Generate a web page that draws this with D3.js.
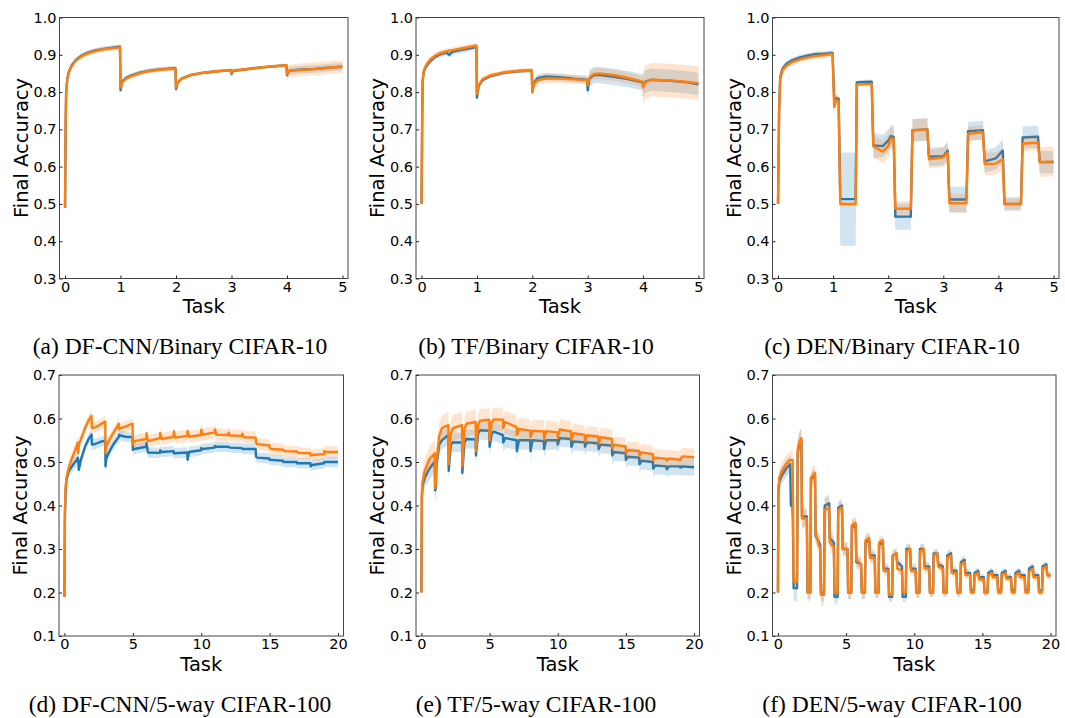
<!DOCTYPE html>
<html><head><meta charset="utf-8">
<script src="https://cdn.jsdelivr.net/npm/d3@7"></script>
<style>body{margin:0;background:#fff}</style>
</head><body>
<svg id="chart" width="1065" height="718"></svg>
<script>
// ---------- tick labels & captions ----------
const xTicksTop = [0, 1, 2, 3, 4, 5];
const xTicksBottom = [0, 5, 10, 15, 20];
const yTicksTop = [0.3, 0.4, 0.5, 0.6, 0.7, 0.8, 0.9, 1.0];
const yTicksBottom = [0.1, 0.2, 0.3, 0.4, 0.5, 0.6, 0.7];
const captions = ["(a) DF-CNN/Binary CIFAR-10", "(b) TF/Binary CIFAR-10", "(c) DEN/Binary CIFAR-10",
  "(d) DF-CNN/5-way CIFAR-100", "(e) TF/5-way CIFAR-100", "(f) DEN/5-way CIFAR-100"];

// ---------- (a) DF-CNN / Binary CIFAR-10 ----------
const xA = [0,0.01,0.02,0.04,0.07,0.12,0.2,0.3,0.4,0.55,0.7,0.85,0.99,1.0,1.03,1.1,1.2,1.35,1.5,1.7,1.99,2.0,2.03,2.1,2.25,2.5,2.75,2.99,3.0,3.03,3.3,3.6,3.99,4.0,4.04,4.2,4.5,4.8,5.0];
const blueA = [0.49,0.70,0.80,0.835,0.855,0.872,0.887,0.898,0.905,0.912,0.916,0.919,0.922,0.805,0.828,0.838,0.845,0.852,0.857,0.861,0.864,0.808,0.825,0.836,0.845,0.852,0.856,0.859,0.848,0.857,0.862,0.867,0.872,0.845,0.857,0.860,0.862,0.866,0.868];
const orangeA = [0.49,0.70,0.80,0.835,0.853,0.870,0.885,0.896,0.903,0.910,0.915,0.918,0.920,0.812,0.826,0.836,0.843,0.851,0.856,0.860,0.863,0.812,0.825,0.836,0.845,0.852,0.856,0.859,0.850,0.858,0.862,0.867,0.872,0.848,0.857,0.859,0.862,0.866,0.868];
const blueSdA = [0.006,0.006,0.004,0.004,0.010];
const orangeSdA = [0.007,0.006,0.004,0.004,0.017];

// ---------- (b) TF / Binary CIFAR-10 ----------
const xB = [0,0.01,0.02,0.04,0.08,0.15,0.25,0.35,0.45,0.5,0.55,0.65,0.8,0.99,1.0,1.03,1.1,1.25,1.5,1.75,1.99,2.0,2.03,2.1,2.25,2.5,2.75,2.99,3.0,3.03,3.1,3.2,3.5,3.75,3.99,4.0,4.04,4.15,4.5,4.8,5.0];
const blueB = [0.50,0.70,0.83,0.855,0.868,0.882,0.895,0.902,0.906,0.900,0.907,0.911,0.915,0.921,0.785,0.815,0.832,0.843,0.852,0.856,0.858,0.80,0.825,0.838,0.842,0.840,0.836,0.833,0.805,0.835,0.845,0.846,0.840,0.834,0.826,0.815,0.828,0.833,0.830,0.826,0.821];
const orangeB = [0.50,0.70,0.83,0.857,0.872,0.886,0.898,0.905,0.909,0.911,0.912,0.915,0.919,0.925,0.795,0.818,0.835,0.845,0.853,0.857,0.858,0.80,0.822,0.832,0.836,0.836,0.834,0.832,0.818,0.838,0.848,0.850,0.845,0.837,0.828,0.812,0.826,0.833,0.831,0.827,0.824];
const blueSdB = [0.008,0.005,0.010,0.022,0.030];
const orangeSdB = [0.008,0.006,0.012,0.015,0.045];

// ---------- (c) DEN / Binary CIFAR-10 ----------
const xC = [0,0.02,0.04,0.08,0.15,0.25,0.4,0.55,0.7,0.85,0.99,1.02,1.05,1.1,1.13,1.41,1.43,1.70,1.73,1.9,2.0,2.05,2.1,2.13,2.41,2.44,2.71,2.74,3.0,3.08,3.11,3.42,3.45,3.72,3.75,3.95,4.08,4.11,4.41,4.44,4.72,4.75,5.0];
const blueC = [0.50,0.75,0.84,0.862,0.875,0.885,0.893,0.898,0.902,0.903,0.905,0.78,0.783,0.782,0.513,0.513,0.826,0.828,0.657,0.655,0.67,0.682,0.68,0.466,0.466,0.698,0.70,0.627,0.628,0.643,0.512,0.512,0.695,0.698,0.614,0.622,0.643,0.50,0.50,0.678,0.68,0.612,0.612];
const orangeC = [0.50,0.75,0.835,0.858,0.87,0.88,0.888,0.893,0.897,0.899,0.902,0.76,0.778,0.776,0.50,0.50,0.82,0.822,0.655,0.64,0.655,0.675,0.675,0.487,0.487,0.697,0.70,0.62,0.625,0.637,0.502,0.502,0.688,0.692,0.607,0.608,0.62,0.50,0.50,0.662,0.664,0.612,0.614];
const blueSdC = [0.01,0.02,0.015,0.01,0.008,0.007,0.007,0.007,0.007,0.007,0.007,0.02,0.01,0.01,0.125,0.125,0.006,0.006,0.035,0.03,0.03,0.03,0.03,0.035,0.035,0.03,0.03,0.025,0.025,0.025,0.035,0.035,0.025,0.025,0.03,0.03,0.03,0.018,0.018,0.03,0.03,0.03,0.03];
const orangeSdC = [0.01,0.02,0.015,0.012,0.01,0.008,0.008,0.008,0.008,0.008,0.008,0.025,0.012,0.012,0.006,0.006,0.006,0.006,0.03,0.03,0.03,0.03,0.03,0.02,0.02,0.03,0.03,0.025,0.025,0.025,0.025,0.025,0.02,0.02,0.03,0.03,0.03,0.015,0.015,0.02,0.02,0.04,0.04];

// ---------- (d) DF-CNN / 5-way CIFAR-100 ----------
const xD = [0,0.03,0.08,0.15,0.3,0.5,0.7,0.9,0.98,1.0,1.05,1.2,1.5,1.8,1.98,2.0,2.3,2.6,2.98,3.0,3.05,3.3,3.6,3.98,4.0,4.05,4.5,4.98,5.0,5.1,5.98,
  6,6.1,6.98,7,7.1,7.98,8,8.1,8.98,9,9.1,9.98,10,10.1,10.98,11,11.1,11.98,12,12.1,12.98,13,13.1,13.98,14,14.1,14.98,15,15.1,15.98,16,16.1,16.98,17,17.1,17.98,18,18.1,18.98,19,19.1,20];
const orangeD = [0.19,0.38,0.44,0.465,0.485,0.505,0.52,0.537,0.545,0.52,0.54,0.552,0.578,0.598,0.606,0.578,0.58,0.586,0.593,0.52,0.535,0.552,0.568,0.588,0.575,0.577,0.582,0.588,0.54,0.548,0.553,
  0.566,0.548,0.555,0.567,0.553,0.558,0.57,0.556,0.56,0.571,0.558,0.562,0.574,0.563,0.568,0.575,0.563,0.562,0.568,0.561,0.56,0.565,0.557,0.556,0.545,0.541,0.538,0.533,0.53,0.528,0.528,0.525,0.524,0.524,0.521,0.52,0.515,0.516,0.518,0.525,0.523,0.523];
const blueD = [0.19,0.37,0.43,0.46,0.478,0.488,0.497,0.505,0.51,0.505,0.482,0.505,0.535,0.555,0.563,0.54,0.542,0.546,0.549,0.49,0.508,0.525,0.542,0.558,0.563,0.561,0.558,0.557,0.528,0.53,0.535,
  0.543,0.522,0.521,0.527,0.523,0.525,0.52,0.52,0.522,0.505,0.523,0.527,0.532,0.53,0.533,0.537,0.535,0.535,0.535,0.533,0.532,0.53,0.53,0.53,0.512,0.51,0.508,0.505,0.505,0.503,0.5,0.5,0.5,0.497,0.497,0.497,0.49,0.493,0.497,0.5,0.5,0.5];
const blueSdD = [0.015,0.012,0.012,0.012,0.012,0.012,0.012,0.012,0.012,0.012,0.012,0.012,0.012,0.012,0.012,0.012,0.012,0.012,0.012,0.012];
const orangeSdD = [0.015,0.013,0.013,0.013,0.013,0.014,0.014,0.014,0.014,0.014,0.014,0.014,0.014,0.014,0.014,0.014,0.013,0.013,0.013,0.013];

// ---------- (e) TF / 5-way CIFAR-100 ----------
const xE = [0,0.03,0.08,0.25,0.6,0.95,0.98,1.0,1.05,1.1,1.3,1.5,1.98,2,2.15,2.3,2.98,3,3.15,3.3,3.98,4,4.15,4.3,4.98,5,5.15,5.3,5.98,
  6,6.15,6.98,7,7.15,7.98,8,8.15,8.98,9,9.15,9.98,10,10.15,10.98,11,11.15,11.98,12,12.15,12.98,13,13.15,13.98,14,14.15,14.98,15,15.15,15.98,16,16.15,16.98,17,17.15,17.98,18,18.15,18.98,19,19.15,20];
const orangeE = [0.2,0.43,0.455,0.48,0.508,0.518,0.52,0.44,0.45,0.50,0.56,0.578,0.585,0.495,0.565,0.578,0.585,0.49,0.575,0.588,0.592,0.525,0.585,0.595,0.597,0.55,0.59,0.598,0.597,
  0.578,0.592,0.58,0.562,0.576,0.572,0.557,0.572,0.57,0.552,0.571,0.568,0.556,0.575,0.57,0.552,0.566,0.562,0.547,0.561,0.558,0.543,0.557,0.553,0.532,0.54,0.535,0.52,0.527,0.525,0.515,0.522,0.518,0.505,0.51,0.507,0.503,0.508,0.505,0.507,0.513,0.511];
const blueE = [0.2,0.42,0.445,0.465,0.485,0.50,0.502,0.435,0.44,0.49,0.54,0.55,0.562,0.48,0.54,0.545,0.545,0.475,0.545,0.553,0.552,0.515,0.565,0.573,0.572,0.535,0.565,0.57,0.562,
  0.545,0.555,0.55,0.525,0.55,0.55,0.525,0.55,0.548,0.53,0.55,0.55,0.54,0.555,0.553,0.535,0.547,0.545,0.535,0.545,0.543,0.53,0.54,0.538,0.515,0.523,0.52,0.505,0.512,0.51,0.495,0.503,0.50,0.485,0.492,0.49,0.483,0.49,0.49,0.487,0.49,0.488];
const blueSdE = [0.025,0.022,0.022,0.022,0.022,0.022,0.022,0.022,0.022,0.022,0.02,0.02,0.02,0.02,0.02,0.02,0.02,0.02,0.02,0.02];
const orangeSdE = [0.03,0.03,0.03,0.028,0.027,0.026,0.026,0.026,0.026,0.025,0.024,0.022,0.022,0.022,0.02,0.02,0.02,0.02,0.02,0.02];

// ---------- (f) DEN / 5-way CIFAR-100 ----------
const xF = [0,0.03,0.1,0.3,0.6,0.9,0.95,1.08,
  1.15,1.4,1.45,1.55,1.72,1.76,
  2.12,2.17,2.38,2.42,2.72,2.76,
  3.10,3.15,3.38,3.43,3.76,3.80,
  4.10,4.15,4.38,4.42,4.70,4.75,
  5.10,5.15,5.38,5.42,5.70,5.75,
  6.10,6.15,6.38,6.42,6.70,6.75,
  7.10,7.15,7.38,7.42,7.70,7.75,
  8.10,8.15,8.38,8.42,8.70,8.75,
  9.10,9.15,9.38,9.42,9.70,9.75,
  10.10,10.15,10.38,10.42,10.70,10.75,
  11.10,11.15,11.38,11.42,11.70,11.75,
  12.10,12.15,12.38,12.42,12.70,12.75,
  13.10,13.15,13.38,13.42,13.70,13.75,
  14.10,14.15,14.38,14.42,14.70,14.75,
  15.10,15.15,15.38,15.42,15.70,15.75,
  16.10,16.15,16.38,16.42,16.70,16.75,
  17.10,17.15,17.38,17.42,17.70,17.75,
  18.10,18.15,18.38,18.42,18.70,18.75,
  19.10,19.15,19.38,19.42,19.70,19.75,
  20.0];
const orangeF = [0.2,0.44,0.465,0.48,0.495,0.505,0.505,0.505,
  0.225,0.225,0.53,0.545,0.555,0.37,
  0.37,0.2,0.2,0.465,0.475,0.335,
  0.30,0.195,0.195,0.39,0.395,0.315,
  0.305,0.2,0.2,0.39,0.395,0.30,
  0.30,0.2,0.2,0.355,0.36,0.275,
  0.265,0.2,0.2,0.32,0.325,0.28,
  0.28,0.2,0.2,0.315,0.32,0.25,
  0.25,0.195,0.195,0.285,0.29,0.255,
  0.25,0.2,0.2,0.295,0.30,0.25,
  0.25,0.2,0.2,0.295,0.30,0.255,
  0.255,0.2,0.2,0.285,0.29,0.26,
  0.255,0.2,0.2,0.28,0.285,0.245,
  0.245,0.2,0.2,0.265,0.27,0.24,
  0.24,0.2,0.2,0.24,0.245,0.23,
  0.23,0.2,0.2,0.24,0.245,0.235,
  0.235,0.2,0.2,0.24,0.245,0.232,
  0.232,0.2,0.2,0.24,0.245,0.235,
  0.235,0.2,0.2,0.248,0.255,0.235,
  0.235,0.2,0.2,0.255,0.26,0.24,
  0.238];
const blueF = [0.2,0.43,0.455,0.47,0.485,0.495,0.40,0.40,
  0.21,0.21,0.52,0.54,0.548,0.375,
  0.375,0.2,0.2,0.46,0.47,0.33,
  0.31,0.2,0.2,0.40,0.405,0.325,
  0.315,0.19,0.19,0.395,0.40,0.30,
  0.30,0.2,0.2,0.35,0.355,0.27,
  0.265,0.2,0.2,0.315,0.32,0.285,
  0.285,0.2,0.2,0.31,0.315,0.255,
  0.255,0.19,0.19,0.285,0.29,0.27,
  0.26,0.19,0.19,0.30,0.30,0.255,
  0.255,0.2,0.2,0.30,0.30,0.26,
  0.26,0.2,0.2,0.29,0.29,0.265,
  0.26,0.2,0.2,0.285,0.29,0.25,
  0.25,0.2,0.2,0.27,0.275,0.245,
  0.245,0.205,0.205,0.245,0.25,0.235,
  0.235,0.2,0.2,0.245,0.25,0.24,
  0.24,0.205,0.205,0.245,0.25,0.235,
  0.235,0.205,0.205,0.245,0.25,0.24,
  0.24,0.205,0.205,0.255,0.26,0.24,
  0.24,0.205,0.205,0.26,0.265,0.24,
  0.24];
const blueSdF = [0.02,0.03,0.015,0.02,0.015,0.015,0.015,0.012,0.012,0.012,0.012,0.01,0.01,0.01,0.008,0.008,0.008,0.008,0.008,0.008];
const orangeSdF = [0.02,0.02,0.02,0.025,0.015,0.015,0.015,0.012,0.012,0.012,0.012,0.01,0.01,0.01,0.008,0.008,0.008,0.008,0.008,0.008];

// ---------- layout ----------
const layout = [
  {L:59.5, R:348,  T:17.5, B:278.5, capX:180, capY:354},
  {L:416,  R:704,  T:17.5, B:278.5, capX:536, capY:354},
  {L:772.5,R:1059, T:17.5, B:278.5, capX:892, capY:354},
  {L:59,   R:343.5,T:375,  B:636,   capX:180, capY:712},
  {L:416,  R:699.5,T:375,  B:636,   capX:536, capY:712},
  {L:772.5,R:1056, T:375,  B:636,   capX:892, capY:712}
];
const panels = [
  {x:xA, blue:blueA, orange:orangeA, bsd:blueSdA, osd:orangeSdA, top:true},
  {x:xB, blue:blueB, orange:orangeB, bsd:blueSdB, osd:orangeSdB, top:true},
  {x:xC, blue:blueC, orange:orangeC, bsd:blueSdC, osd:orangeSdC, top:true},
  {x:xD, blue:blueD, orange:orangeD, bsd:blueSdD, osd:orangeSdD, top:false},
  {x:xE, blue:blueE, orange:orangeE, bsd:blueSdE, osd:orangeSdE, top:false},
  {x:xF, blue:blueF, orange:orangeF, bsd:blueSdF, osd:orangeSdF, top:false}
];

const BLUE = "#1f77b4", ORANGE = "#ff7f0e";
const svg = d3.select("#chart");

function sdAt(sdArr, xs, i) {
  if (sdArr.length === xs.length) return sdArr[i];
  return sdArr[Math.min(Math.floor(xs[i]), sdArr.length - 1)];
}

panels.forEach((p, k) => {
  const lay = layout[k];
  const g = svg.append("g");
  const xDom = p.top ? [-0.1, 5.1] : [-0.4, 20.4];
  const yDom = p.top ? [0.3, 1.0] : [0.1, 0.7];
  const x = d3.scaleLinear().domain(xDom).range([lay.L, lay.R]);
  const y = d3.scaleLinear().domain(yDom).range([lay.B, lay.T]);

  const clipId = "clip" + k;
  g.append("clipPath").attr("id", clipId).append("rect")
    .attr("x", lay.L).attr("y", lay.T).attr("width", lay.R - lay.L).attr("height", lay.B - lay.T);
  const plot = g.append("g").attr("clip-path", `url(#${clipId})`);

  [["blue", "bsd", BLUE], ["orange", "osd", ORANGE]].forEach(([key, sdKey, col]) => {
    const pts = p.x.map((xv, i) => ({x: xv, v: p[key][i], s: sdAt(p[sdKey], p.x, i)}));
    const area = d3.area().x(d => x(d.x)).y0(d => y(d.v - d.s)).y1(d => y(d.v + d.s));
    const line = d3.line().x(d => x(d.x)).y(d => y(d.v));
    plot.append("path").datum(pts).attr("d", area).attr("fill", col).attr("fill-opacity", 0.2);
    plot.append("path").datum(pts).attr("d", line).attr("fill", "none").attr("stroke", col)
      .attr("stroke-width", 2.4).attr("stroke-linejoin", "round");
  });

  // axes
  const xAxis = d3.axisBottom(x).tickValues(p.top ? xTicksTop : xTicksBottom)
    .tickSize(-3).tickPadding(3).tickFormat(d3.format("d"));
  const yAxis = d3.axisLeft(y).tickValues(p.top ? yTicksTop : yTicksBottom)
    .tickSize(-3).tickPadding(3).tickFormat(d3.format(".1f"));
  const gx = g.append("g").attr("transform", `translate(0,${lay.B})`).call(xAxis);
  const gy = g.append("g").attr("transform", `translate(${lay.L},0)`).call(yAxis);
  [gx, gy].forEach(a => {
    a.select(".domain").remove();
    a.attr("font-family", "DejaVu Sans, sans-serif").attr("font-size", 14.5);
    a.selectAll(".tick line").attr("stroke", "#222");
    a.selectAll(".tick text").attr("fill", "#000");
  });

  // frame
  g.append("rect").attr("x", lay.L).attr("y", lay.T).attr("width", lay.R - lay.L).attr("height", lay.B - lay.T)
    .attr("fill", "none").attr("stroke", "#444").attr("stroke-width", 1);

  // labels
  g.append("text").attr("x", (lay.L + lay.R) / 2).attr("y", lay.B + 34.6)
    .attr("text-anchor", "middle").attr("font-family", "DejaVu Sans, sans-serif").attr("font-size", 19.5)
    .attr("fill", "#000").text("Task");
  g.append("text").attr("transform", `translate(${lay.L - 31.7},${(lay.T + lay.B) / 2}) rotate(-90)`)
    .attr("text-anchor", "middle").attr("font-family", "DejaVu Sans, sans-serif").attr("font-size", 19.5)
    .attr("fill", "#000").text("Final Accuracy");
  g.append("text").attr("x", lay.capX).attr("y", lay.capY)
    .attr("text-anchor", "middle").attr("font-family", "Liberation Serif, Times New Roman, serif").attr("font-size", 23.5)
    .attr("fill", "#000").text(captions[k]);
});
</script>
</body></html>
